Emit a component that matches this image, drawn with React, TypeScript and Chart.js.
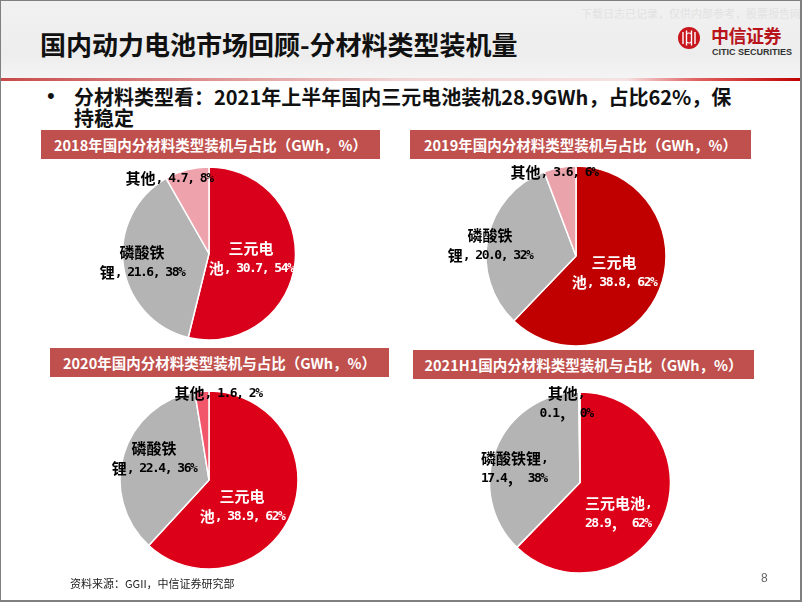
import React, { useEffect, useRef } from 'react';
import { Chart, registerables } from 'chart.js';

Chart.register(...registerables);

// ---------- DATA ----------
const CATEGORIES = ['三元电池', '磷酸铁锂', '其他'];
const PERIODS = ['2018', '2019', '2020', '2021H1'];
const GWH_2018 = [30.7, 21.6, 4.7];
const GWH_2019 = [38.8, 20.0, 3.6];
const GWH_2020 = [38.9, 22.4, 1.6];
const GWH_2021H1 = [28.9, 17.4, 0.1];
const SHARE_2018 = [54, 38, 8];
const SHARE_2019 = [62, 32, 6];
const SHARE_2020 = [62, 36, 2];
const SHARE_2021H1 = [62, 38, 0];

const SERIES = [GWH_2018, GWH_2019, GWH_2020, GWH_2021H1];
const SHARES = [SHARE_2018, SHARE_2019, SHARE_2020, SHARE_2021H1];

// ---------- LAYOUT / STYLE ----------
const W = 802;
const H = 602;
const BW = 1.5;
const LINE_H = 20;

type LabelPos = { dx: number; dy: number; align: 'center' | 'left' };
type PieCfg = {
  cx: number; cy: number; r: number; colors: string[]; style: 'wrap' | 'comma'; labels: LabelPos[];
};

const PIES: PieCfg[] = [
  {
    cx: 209, cy: 253.5, r: 86.5,
    colors: ['#d9001b', '#b4b4b4', '#eea2ab'],
    style: 'wrap',
    labels: [
      { dx: 42, dy: -5.5, align: 'center' },
      { dx: -67, dy: -1.5, align: 'center' },
      { dx: -40, dy: -75.5, align: 'center' },
    ],
  },
  {
    cx: 576, cy: 256, r: 90,
    colors: ['#c00000', '#b4b4b4', '#eaa3ab'],
    style: 'wrap',
    labels: [
      { dx: 38, dy: 6, align: 'center' },
      { dx: -86, dy: -21, align: 'center' },
      { dx: -22, dy: -84, align: 'center' },
    ],
  },
  {
    cx: 209, cy: 480, r: 89,
    colors: ['#dc0018', '#b4b4b4', '#f2566a'],
    style: 'wrap',
    labels: [
      { dx: 33, dy: 16, align: 'center' },
      { dx: -55, dy: -32, align: 'center' },
      { dx: 9, dy: -87, align: 'center' },
    ],
  },
  {
    cx: 580, cy: 482.5, r: 90.5,
    colors: ['#dc0018', '#b4b4b4', '#eea2ab'],
    style: 'comma',
    labels: [
      { dx: 5, dy: 20.5, align: 'left' },
      { dx: -99, dy: -24.5, align: 'left' },
      { dx: -14, dy: -89.5, align: 'center' },
    ],
  },
];

const TITLE_BOXES = [
  { left: 41, top: 130, width: 339, height: 29 },
  { left: 410, top: 130, width: 341, height: 29 },
  { left: 50, top: 348, width: 339, height: 29 },
  { left: 413, top: 350, width: 341, height: 29 },
];

function buildLines(chartIdx: number, catIdx: number): string[] {
  const name = CATEGORIES[catIdx];
  const v = SERIES[chartIdx][catIdx].toFixed(1);
  const s = SHARES[chartIdx][catIdx];
  if (PIES[chartIdx].style === 'comma') {
    return [name + ',', `${v}， ${s}%`];
  }
  if (name.length <= 2) return [`${name}, ${v}, ${s}%`];
  return [name.slice(0, 3), `${name.slice(3)}, ${v}, ${s}%`];
}

const CJK_RE = /[\u2E80-\u9FFF\u3000-\u303F\uFF00-\uFFEF]/;

function drawMixed(ctx: CanvasRenderingContext2D, text: string, x: number, y: number, align: string, color: string) {
  const runs: { t: string; cjk: boolean }[] = [];
  for (const ch of text) {
    const c = CJK_RE.test(ch);
    if (runs.length && runs[runs.length - 1].cjk === c) runs[runs.length - 1].t += ch;
    else runs.push({ t: ch, cjk: c });
  }
  const setFont = (cjk: boolean) => {
    if (cjk) {
      ctx.font = 'bold 15px "Noto Sans CJK SC"';
      (ctx as any).letterSpacing = '0px';
    } else {
      ctx.font = 'bold 13px "DejaVu Sans Mono"';
      (ctx as any).letterSpacing = '-1.5px';
    }
  };
  const widths = runs.map((r) => {
    setFont(r.cjk);
    return ctx.measureText(r.t).width;
  });
  const total = widths.reduce((a, b) => a + b, 0);
  let cx = align === 'center' ? x - total / 2 : x;
  ctx.textBaseline = 'middle';
  ctx.textAlign = 'left';
  ctx.fillStyle = color;
  runs.forEach((r, i) => {
    setFont(r.cjk);
    ctx.fillText(r.t, cx, y + (r.cjk ? 0 : 0.5));
    cx += widths[i];
  });
  (ctx as any).letterSpacing = '0px';
}

function PieChart({ idx }: { idx: number }) {
  const ref = useRef<HTMLCanvasElement | null>(null);
  useEffect(() => {
    const p = PIES[idx];
    const R = p.r + BW / 2;
    const labelPlugin = {
      id: 'pieLabels' + idx,
      afterDatasetsDraw(chart: any) {
        const arc = chart.getDatasetMeta(0).data[0];
        const ctx = chart.ctx as CanvasRenderingContext2D;
        ctx.save();
        p.labels.forEach((lab, i) => {
          const lines = buildLines(idx, i);
          lines.forEach((ln, j) => {
            drawMixed(ctx, ln, arc.x + lab.dx, arc.y + lab.dy + j * LINE_H, lab.align, i === 0 ? '#ffffff' : '#000000');
          });
        });
        ctx.restore();
      },
    };
    const chart = new Chart(ref.current as HTMLCanvasElement, {
      type: 'pie',
      data: {
        labels: CATEGORIES,
        datasets: [
          {
            data: SERIES[idx],
            backgroundColor: p.colors,
            borderColor: '#ffffff',
            borderWidth: BW,
          },
        ],
      },
      options: {
        responsive: false,
        animation: false,
        events: [],
        layout: {
          padding: {
            left: p.cx - R,
            top: p.cy - R,
            right: W - p.cx - R,
            bottom: H - p.cy - R,
          },
        },
        plugins: {
          legend: { display: false },
          tooltip: { enabled: false },
        },
      },
      plugins: [labelPlugin],
    });
    return () => chart.destroy();
  }, [idx]);
  return (
    <canvas
      ref={ref}
      width={W}
      height={H}
      style={{ position: 'absolute', left: 0, top: 0, width: W, height: H }}
    />
  );
}

export default function App() {
  const cjk = '"Noto Sans CJK SC", "Noto Sans", sans-serif';
  return (
    <div
      style={{
        position: 'absolute',
        left: 0,
        top: 0,
        width: W,
        height: H,
        background: '#ffffff',
        overflow: 'hidden',
        fontFamily: cjk,
        boxSizing: 'border-box',
      }}
    >
      {/* header background */}
      <div
        style={{
          position: 'absolute', left: 0, top: 0, width: W, height: 78,
          background: 'linear-gradient(to bottom, #f1f1f1 0%, #ededed 70%, #f4f4f4 100%)',
        }}
      />
      {/* red rule */}
      <div
        style={{
          position: 'absolute', left: 0, top: 78, width: W, height: 3,
          background:
            'linear-gradient(to right, #c84a4a 0%, #de8f8f 25%, #f2d4d4 50%, #f6e2e2 78%, #e06060 87%, #c00000 100%)',
        }}
      />
      {/* watermark */}
      <div
        style={{
          position: 'absolute', left: 581, top: 5, whiteSpace: 'nowrap',
          fontSize: 11, color: '#e2e2e2', lineHeight: '16px',
        }}
      >
        下载日志已记录，仅供内部参考，股票报告网
      </div>
      {/* title */}
      <div
        style={{
          position: 'absolute', left: 40, top: 28, height: 32, lineHeight: '32px',
          fontSize: 26, fontWeight: 700, color: '#111', whiteSpace: 'nowrap',
        }}
      >
        国内动力电池市场回顾-分材料类型装机量
      </div>
      {/* logo */}
      <svg
        width={24}
        height={24}
        viewBox="0 0 24 24"
        style={{ position: 'absolute', left: 677, top: 26 }}
      >
        <circle cx={12} cy={12} r={11} fill="#c8161d" />
        <path d="M6 6 V18 M9.5 4.5 V19.5 M14.5 4.5 V19.5 M18 6 V18" stroke="#fff" strokeWidth={1.4} fill="none" />
        <path d="M9.5 8 Q12 6 14.5 8 M9.5 16 Q12 18 14.5 16" stroke="#fff" strokeWidth={1.2} fill="none" />
      </svg>
      <div
        style={{
          position: 'absolute', left: 711, top: 24, lineHeight: '22px', fontSize: 18,
          fontWeight: 700, color: '#b8141b', whiteSpace: 'nowrap', letterSpacing: '-0.5px',
        }}
      >
        中信证券
      </div>
      <div
        style={{
          position: 'absolute', left: 712, top: 47, lineHeight: '10px', fontSize: 9,
          fontWeight: 700, color: '#333', whiteSpace: 'nowrap',
          fontFamily: '"Liberation Sans Narrow", "Liberation Sans", sans-serif',
        }}
      >
        CITIC SECURITIES
      </div>
      {/* bullet */}
      <div
        style={{
          position: 'absolute', left: 47, top: 84, fontSize: 22, lineHeight: '24px', color: '#111',
          fontFamily: '"Liberation Sans", sans-serif',
        }}
      >
        •
      </div>
      <div
        style={{
          position: 'absolute', left: 74, top: 85.5, fontSize: 20, lineHeight: '21px',
          fontWeight: 700, color: '#111', whiteSpace: 'pre',
        }}
      >
        {'分材料类型看：2021年上半年国内三元电池装机28.9GWh，占比62%，保\n持稳定'}
      </div>
      {/* chart title boxes */}
      {TITLE_BOXES.map((b, i) => (
        <div
          key={i}
          style={{
            position: 'absolute', left: b.left, top: b.top, width: b.width, height: b.height,
            background: '#c0504d', color: '#fff', fontSize: 14.5, fontWeight: 700,
            display: 'flex', alignItems: 'center', justifyContent: 'center', whiteSpace: 'nowrap',
          }}
        >
          {(PERIODS[i].length > 4 ? PERIODS[i] : PERIODS[i] + '年') + '国内分材料类型装机与占比（GWh，%）'}
        </div>
      ))}
      {PIES.map((_, i) => (
        <PieChart key={i} idx={i} />
      ))}
      {/* source */}
      <div
        style={{
          position: 'absolute', left: 70, top: 575, fontSize: 11, lineHeight: '16px', color: '#222',
          whiteSpace: 'nowrap',
        }}
      >
        资料来源：GGII，中信证券研究部
      </div>
      <div
        style={{
          position: 'absolute', left: 761, top: 570, fontSize: 12, lineHeight: '16px', color: '#666',
          fontFamily: '"Liberation Sans", sans-serif',
        }}
      >
        8
      </div>
      {/* slide border */}
      <div
        style={{
          position: 'absolute', left: 0, top: 0, width: W, height: H,
          border: '1px solid #7f7f7f', borderRightWidth: 2, borderBottomWidth: 2,
          boxSizing: 'border-box', pointerEvents: 'none',
        }}
      />
    </div>
  );
}
